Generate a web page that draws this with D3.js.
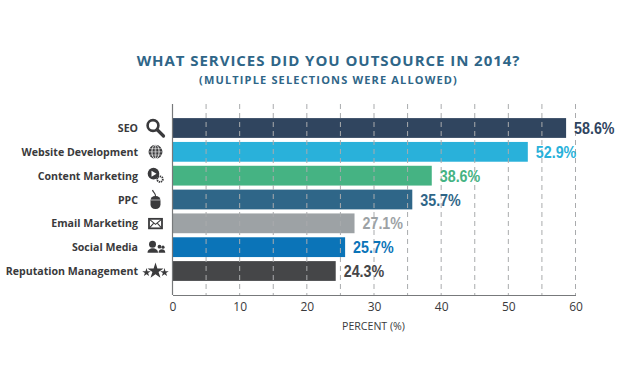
<!DOCTYPE html>
<html>
<head>
<meta charset="utf-8">
<script src="https://cdnjs.cloudflare.com/ajax/libs/d3/7.8.5/d3.min.js"></script>
<style>
html, body { margin: 0; padding: 0; background: #fff; }
text { font-family: "Open Sans", sans-serif; }
</style>
</head>
<body>
<div id="chart-area"></div>
<script>
var services = ["SEO", "Website Development", "Content Marketing", "PPC", "Email Marketing", "Social Media", "Reputation Management"];
var percents = [58.6, 52.9, 38.6, 35.7, 27.1, 25.7, 24.3];
var barColors = ["#30455f", "#29b1da", "#45b383", "#2f6688", "#9da2a5", "#0b74b8", "#454648"];
var icons = ["search", "globe", "video", "mouse", "mail", "people", "stars"];
var xTicks = [0, 10, 20, 30, 40, 50, 60];
var gridTicks = [5, 10, 15, 20, 25, 30, 35, 40, 45, 50, 55, 60];

var margin = {top: 104, left: 172.5};
var width = 403;
var height = 191;
var iconColor = "#3a3a3c";

var svg = d3.select("#chart-area")
    .append("svg")
    .attr("width", 622)
    .attr("height", 384);

svg.append("text")
    .attr("x", 328.5)
    .attr("y", 66)
    .attr("text-anchor", "middle")
    .attr("font-size", "15px")
    .attr("font-weight", 700)
    .attr("letter-spacing", "0.95px")
    .attr("fill", "#2f6688")
    .text("WHAT SERVICES DID YOU OUTSOURCE IN 2014?");

svg.append("text")
    .attr("x", 328.5)
    .attr("y", 84)
    .attr("text-anchor", "middle")
    .attr("font-size", "11px")
    .attr("font-weight", 700)
    .attr("letter-spacing", "1.16px")
    .attr("fill", "#2f6688")
    .text("(MULTIPLE SELECTIONS WERE ALLOWED)");

var g = svg.append("g")
    .attr("transform", "translate(" + margin.left + ", " + margin.top + ")");

var x = d3.scaleLinear()
    .domain([0, 60])
    .range([0, width]);

var y = d3.scaleBand()
    .domain(services)
    .range([12.2, 178.8])
    .paddingInner(0.17)
    .paddingOuter(0.08);

// bars first, the dashed grid shows on top of them
g.selectAll("rect.bar")
    .data(services)
    .enter().append("rect")
    .attr("class", "bar")
    .attr("x", 0)
    .attr("y", (d) => y(d))
    .attr("width", (d, i) => x(percents[i]))
    .attr("height", y.bandwidth())
    .attr("fill", (d, i) => barColors[i]);

g.selectAll("line.grid")
    .data(gridTicks)
    .enter().append("line")
    .attr("class", "grid")
    .attr("x1", (d) => x(d))
    .attr("x2", (d) => x(d))
    .attr("y1", 0)
    .attr("y2", height)
    .attr("stroke", "#a9abad")
    .attr("stroke-width", 1)
    .attr("stroke-dasharray", "5,4");

var xAxisCall = d3.axisBottom(x)
    .tickValues(xTicks)
    .tickSize(0)
    .tickPadding(7);

var xAxisGroup = g.append("g")
    .attr("transform", "translate(0, " + height + ")")
    .call(xAxisCall);
xAxisGroup.select(".domain").attr("stroke", "#77797b").attr("stroke-width", 1.2);
xAxisGroup.selectAll("text")
    .attr("font-size", "12px")
    .attr("font-family", "Open Sans")
    .attr("fill", "#3a3a3c");

g.append("line")
    .attr("x1", 0)
    .attr("x2", 0)
    .attr("y1", 0)
    .attr("y2", height)
    .attr("stroke", "#77797b")
    .attr("stroke-width", 1.2);

g.append("text")
    .attr("x", x(30) - 0.5)
    .attr("y", height + 35)
    .attr("text-anchor", "middle")
    .attr("font-size", "10.6px")
    .attr("fill", "#3a3a3c")
    .text("PERCENT (%)");

g.selectAll("text.service")
    .data(services)
    .enter().append("text")
    .attr("class", "service")
    .attr("x", -34.5)
    .attr("y", (d) => y(d) + y.bandwidth() / 2 + 4)
    .attr("text-anchor", "end")
    .attr("font-size", "10.6px")
    .attr("font-weight", 700)
    .attr("fill", iconColor)
    .text((d) => d);

// the labels are condensed in the original, so squeeze them sideways
g.selectAll("text.value")
    .data(services)
    .enter().append("text")
    .attr("class", "value")
    .attr("transform", (d, i) => "translate(" + (x(percents[i]) + 8) + ", " + (y(d) + y.bandwidth() / 2 + 6) + ") scale(0.83, 1)")
    .attr("font-size", "17.2px")
    .attr("font-weight", 700)
    .style("font-family", "'Liberation Sans', sans-serif")
    .attr("fill", (d, i) => barColors[i])
    .text((d, i) => percents[i] + "%");

// small hand drawn icons, centred on 0,0
var drawIcon = {
    search: function(s) {
        s.append("circle").attr("cx", -2.5).attr("cy", -2.5).attr("r", 5.4).attr("fill", "none").attr("stroke", iconColor).attr("stroke-width", 2.6);
        s.append("line").attr("x1", 2).attr("y1", 2).attr("x2", 8).attr("y2", 8).attr("stroke", iconColor).attr("stroke-width", 3.2).attr("stroke-linecap", "round");
    },
    globe: function(s) {
        s.append("circle").attr("r", 7).attr("fill", iconColor);
        [-3.2, 0, 3.2].forEach(function(k) {
            s.append("line").attr("x1", -7).attr("x2", 7).attr("y1", k).attr("y2", k).attr("stroke", "#fff").attr("stroke-width", 0.5);
            s.append("ellipse").attr("rx", Math.abs(k) + 0.4).attr("ry", 7).attr("fill", "none").attr("stroke", "#fff").attr("stroke-width", 0.5);
        });
    },
    video: function(s) {
        s.append("circle").attr("cx", -2).attr("cy", -2).attr("r", 5.8).attr("fill", iconColor);
        s.append("path").attr("d", "M-4,-5L1,-2L-4,1Z").attr("fill", "#fff");
        s.append("circle").attr("cx", 4.5).attr("cy", 3.5).attr("r", 2.8).attr("fill", "none").attr("stroke", iconColor).attr("stroke-width", 1.8).attr("stroke-dasharray", "1.4,0.7");
    },
    mouse: function(s) {
        s.append("rect").attr("x", -5).attr("y", -3.5).attr("width", 10).attr("height", 13).attr("rx", 4.6).attr("fill", iconColor);
        s.append("line").attr("x1", -5).attr("x2", 5).attr("y1", 0.5).attr("y2", 0.5).attr("stroke", "#fff").attr("stroke-width", 0.6);
        s.append("path").attr("d", "M0,-3.5C0,-7 -2,-6.5 -3,-9.5").attr("fill", "none").attr("stroke", iconColor).attr("stroke-width", 1.1);
    },
    mail: function(s) {
        s.append("rect").attr("x", -6.5).attr("y", -4.5).attr("width", 13).attr("height", 9.5).attr("fill", "#fff").attr("stroke", iconColor).attr("stroke-width", 1.8);
        s.append("path").attr("d", "M-6,-4L0,1L6,-4M-6,4.5L-1.5,-0.5M6,4.5L1.5,-0.5").attr("fill", "none").attr("stroke", iconColor).attr("stroke-width", 1.1);
    },
    people: function(s) {
        s.append("circle").attr("cx", -3).attr("cy", -3).attr("r", 3.5).attr("fill", iconColor);
        s.append("path").attr("d", "M-8,5.5C-8,-0.5 2.5,-0.5 2.5,5.5Z").attr("fill", iconColor);
        s.append("circle").attr("cx", 4).attr("cy", -0.5).attr("r", 1.9).attr("fill", iconColor);
        s.append("circle").attr("cx", 7.5).attr("cy", 0).attr("r", 1.6).attr("fill", iconColor);
        s.append("path").attr("d", "M3,5.5C3,1 9.8,1 9.8,5.5Z").attr("fill", iconColor);
    },
    stars: function(s) {
        var star = d3.symbol().type(d3.symbolStar);
        s.append("path").attr("d", star.size(80)()).attr("fill", iconColor);
        s.append("path").attr("d", star.size(22)()).attr("transform", "translate(-9,1.5)").attr("fill", iconColor);
        s.append("path").attr("d", star.size(22)()).attr("transform", "translate(9,1.5)").attr("fill", iconColor);
    }
};

services.forEach(function(d, i) {
    var ig = g.append("g")
        .attr("transform", "translate(-17, " + (y(d) + y.bandwidth() / 2) + ")");
    drawIcon[icons[i]](ig);
});
</script>
</body>
</html>
